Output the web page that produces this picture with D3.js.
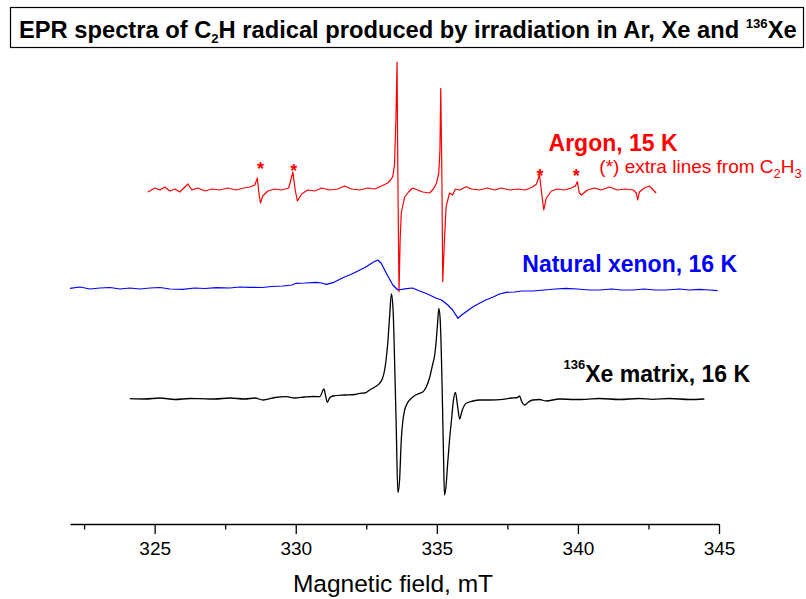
<!DOCTYPE html>
<html>
<head>
<meta charset="utf-8">
<script src="https://cdn.jsdelivr.net/npm/d3@7"></script>
<style>
  body { margin: 0; background: #fff; }
  svg { display: block; font-family: "Liberation Sans", Arial, sans-serif; }
  .axis path, .axis line { stroke: #000; stroke-width: 1.3px; }
  .axis text { font-size: 19px; fill: #000; }
  .trace { fill: none; stroke-linejoin: round; }
</style>
</head>
<body>
<div id="chart"></div>
<script>
// EPR spectra of C2H radical (field in mT, signal in arbitrary units)

// Argon, 15 K  [field, signal]
var argon = [
  [324.76,-0.2],[325.01,0.2],[325.19,0],[325.36,0.3],[325.54,-0.1],[325.72,0.1],[325.89,-0.2],
  [326.18,0.6],[326.32,0],[326.53,0.2],[326.78,-0.1],[327.03,0.1],[327.31,0],[327.59,0.2],
  [327.88,0],[328.16,0.2],[328.37,0.3],[328.55,0.5],[328.64,1.2],[328.69,-0.2],[328.75,-1.3],
  [328.83,-0.6],[329.01,-0.1],[329.26,0.1],[329.50,0],[329.75,0.2],[329.90,1.8],[329.98,0],
  [330.06,-1.1],[330.21,-0.4],[330.42,0],[330.67,-0.1],[330.92,0.2],[331.20,0],[331.49,0.1],
  [331.73,0.4],[331.98,0.1],[332.27,0],[332.55,0.2],[332.80,0.1],[333.04,0.4],[333.26,0.7],
  [333.36,1.0],[333.44,1.33],[333.50,2.5],[333.55,7.0],[333.59,12.8],[333.62,1.0],[333.66,-10.17],
  [333.70,-5.0],[333.74,-2.3],[333.86,-0.7],[334.00,-0.2],[334.14,0.2],[334.32,0],[334.50,-0.2],
  [334.74,-0.3],[334.88,0.1],[334.99,0.7],[335.07,1.7],[335.11,4.0],[335.14,10.17],[335.18,1.0],
  [335.21,-9.17],[335.27,-5.0],[335.33,-1.67],[335.45,-0.3],[335.56,-0.5],[335.66,0.1],[335.81,0],
  [336.04,0.33],[336.23,0.1],[336.51,0],[336.80,0.2],[337.04,0],[337.29,0.2],[337.58,0],
  [337.86,0.1],[338.14,0],[338.39,0.3],[338.53,0.6],[338.64,1.5],[338.71,-0.2],[338.79,-2.0],
  [338.88,-0.8],[339.06,-0.1],[339.27,0.1],[339.52,0],[339.77,0.2],[339.91,0.4],[339.98,0.83],
  [340.05,-0.3],[340.12,-0.5],[340.34,0],[340.58,0.2],[340.83,0],[341.12,0.3],[341.40,0],
  [341.68,0.1],[341.96,0],[342.07,-0.3],[342.12,-1.0],[342.18,-0.2],[342.35,0.2],[342.53,0.4],
  [342.64,0.1],[342.77,-0.3]
];

// Natural xenon, 16 K
var xenon = [
  [322.00,-0.03],[322.35,0.1],[322.71,-0.1],[323.06,0],[323.42,0.05],[323.77,-0.1],[324.12,0],
  [324.48,-0.1],[324.83,0],[325.19,0.05],[325.54,-0.1],[326.00,-0.13],[326.42,0],[326.78,-0.05],
  [327.19,0.03],[327.66,0],[328.02,0.1],[328.37,0.07],[328.80,0.05],[329.15,0.15],[329.55,0.2],
  [329.86,0.3],[330.02,0.47],[330.32,0.5],[330.73,0.57],[330.92,0.5],[331.09,0.37],[331.32,0.53],
  [331.67,1.03],[331.91,1.3],[332.15,1.63],[332.50,2.13],[332.74,2.57],[332.91,2.8],[333.03,2.47],
  [333.21,1.47],[333.44,0.3],[333.62,-0.2],[333.92,-0.07],[334.14,0],[334.39,-0.3],[334.67,-0.6],
  [334.98,-1.03],[335.17,-1.2],[335.39,-1.7],[335.56,-2.2],[335.75,-3.03],[335.88,-2.7],
  [336.04,-2.37],[336.27,-1.9],[336.51,-1.53],[336.73,-1.2],[336.98,-0.93],[337.22,-0.6],
  [337.46,-0.43],[337.75,-0.4],[338.00,-0.3],[338.40,-0.3],[338.81,-0.2],[339.20,-0.1],
  [339.58,-0.03],[339.98,-0.1],[340.41,-0.2],[340.76,-0.2],[341.19,-0.1],[341.54,-0.2],
  [341.94,-0.2],[342.35,-0.1],[342.74,-0.2],[343.12,-0.2],[343.59,-0.1],[343.95,-0.2],
  [344.30,-0.13],[344.65,-0.2],[344.95,-0.27]
];

// 136Xe matrix, 16 K
var xe136 = [
  [324.12,0.03],[324.65,0],[325.19,0.1],[325.72,-0.05],[326.25,0.05],[326.60,0.03],[327.13,0],
  [327.66,0.1],[328.19,0],[328.55,0.1],[328.84,-0.1],[329.26,0.15],[329.67,0.23],[329.96,0.1],
  [330.32,0.2],[330.67,0.25],[330.85,0.23],[331.00,1.0],[331.06,0.3],[331.12,-0.33],[331.20,0.1],
  [331.32,0.3],[331.73,0.4],[332.09,0.45],[332.27,0.57],[332.44,0.6],[332.62,0.9],[332.80,1.2],
  [332.97,1.57],[333.08,2.1],[333.15,2.9],[333.21,4.1],[333.27,5.9],[333.33,8.4],[333.39,10.5],
  [333.45,8.9],[333.50,4.23],[333.56,-2.6],[333.62,-9.37],[333.68,-8.1],[333.74,-4.1],
  [333.80,-2.1],[333.86,-1.1],[333.96,-0.4],[334.10,0.07],[334.25,0.4],[334.39,0.57],[334.50,0.7],
  [334.63,1.23],[334.74,2.1],[334.86,3.57],[334.92,4.3],[334.98,5.9],[335.03,7.7],[335.07,9.07],
  [335.12,7.9],[335.19,0.9],[335.24,-6.1],[335.27,-9.6],[335.33,-8.6],[335.38,-6.6],[335.45,-4.1],
  [335.52,-2.1],[335.59,-0.1],[335.66,0.67],[335.73,-0.6],[335.81,-2.0],[335.88,-1.3],
  [336.04,-0.43],[336.28,-0.2],[336.51,-0.1],[336.87,-0.1],[337.34,-0.03],[337.65,0.1],
  [337.86,0.15],[337.93,0.3],[338.00,-0.2],[338.11,-0.6],[338.25,-0.3],[338.40,-0.1],
  [338.64,-0.05],[338.87,-0.2],[339.35,0],[339.88,-0.05],[340.29,-0.03],[340.76,0.05],
  [341.47,-0.05],[342.18,0.05],[342.65,-0.03],[343.24,0.05],[343.95,-0.05],[344.48,0]
];

// vertical offsets of the stacked traces
var baselines = [33.4, 23.6, 12.5];
var colors = ['#ff0000', '#0000ff', '#000000'];

// C2H3 extra lines in the argon spectrum: [field, height of the star]
var stars = [[328.75, 2.5], [329.93, 2.35], [338.66, 1.85], [339.94, 1.8]];

// axis ticks
var majorTicks = [325, 330, 335, 340, 345];
var minorTicks = [322.5, 327.5, 332.5, 337.5, 342.5];

var width = 806, height = 599;

var svg = d3.select('#chart').append('svg')
    .attr('width', width)
    .attr('height', height);

var x = d3.scaleLinear().domain([322, 345]).range([70, 719]);
var y = d3.scaleLinear().domain([0, 47]).range([524, 54]);

// Title box
svg.append('rect')
    .attr('x', 10.5).attr('y', 7.5)
    .attr('width', 793).attr('height', 40)
    .attr('fill', 'none')
    .attr('stroke', '#000')
    .attr('stroke-width', 1.2);

var title = svg.append('text')
    .attr('font-weight', 'bold')
    .attr('font-size', 23.5);
title.append('tspan').text('EPR spectra of C');
title.append('tspan').attr('font-size', 13).attr('dy', 5).text('2');
title.append('tspan').attr('dy', -5).text('H radical produced by irradiation in Ar, Xe and ');
title.append('tspan').attr('font-size', 13).attr('dy', -10).text('136');
title.append('tspan').attr('dy', 10).text('Xe');
// squeeze the title into the box like a narrow font
var tw = title.node().getComputedTextLength();
title.attr('transform', 'translate(19,38) scale(' + (778 / tw) + ',1)');

// Axis
var gx = svg.append('g')
    .attr('class', 'axis')
    .attr('transform', 'translate(0,524)')
    .call(d3.axisBottom(x).tickValues(majorTicks).tickSize(10).tickSizeOuter(0).tickPadding(8)
        .tickFormat(d3.format('d')));
gx.selectAll('text').attr('dy', '0.71em');

svg.append('g')
    .attr('class', 'axis')
    .attr('transform', 'translate(0,524)')
    .call(d3.axisBottom(x).tickValues(minorTicks).tickSize(5.5).tickSizeOuter(0).tickFormat(''))
    .select('.domain').remove();

svg.append('text')
    .attr('x', 393).attr('y', 592)
    .attr('text-anchor', 'middle')
    .attr('font-size', 24.5)
    .text('Magnetic field, mT');

// Spectra
var line = d3.line()
    .x(function(d) { return x(d[0]); });

[argon, xenon, xe136].forEach(function(data, i) {
  svg.append('path')
      .datum(data)
      .attr('class', 'trace')
      .attr('stroke', colors[i])
      .attr('stroke-width', i == 2 ? 1.3 : 1.2)
      .attr('d', line
          .y(function(d) { return y(d[1] + baselines[i]); })
          .curve(i == 2 ? d3.curveMonotoneX : d3.curveLinear));
});

// Stars marking the C2H3 lines
svg.selectAll('.star')
    .data(stars)
    .enter()
      .append('text')
        .attr('class', 'star')
        .attr('x', function(d) { return x(d[0]); })
        .attr('y', function(d) { return y(d[1] + baselines[0]) + 10; })
        .attr('text-anchor', 'middle')
        .attr('font-size', 18)
        .attr('font-weight', 'bold')
        .attr('fill', colors[0])
        .text('*');

// Labels
svg.append('text')
    .attr('x', x(338.96)).attr('y', 151)
    .attr('font-weight', 'bold').attr('font-size', 23)
    .attr('fill', colors[0])
    .text('Argon, 15 K');

var note = svg.append('text')
    .attr('x', x(340.76)).attr('y', 173)
    .attr('font-size', 19)
    .attr('fill', colors[0]);
note.append('tspan').text('(*) extra lines from C');
note.append('tspan').attr('font-size', 13).attr('dy', 5).text('2');
note.append('tspan').attr('dy', -5).text('H');
note.append('tspan').attr('font-size', 13).attr('dy', 5).text('3');

svg.append('text')
    .attr('x', x(338.03)).attr('y', 272)
    .attr('font-weight', 'bold').attr('font-size', 23)
    .attr('fill', colors[1])
    .text('Natural xenon, 16 K');

var xeLabel = svg.append('text')
    .attr('x', x(339.49)).attr('y', 382)
    .attr('font-weight', 'bold').attr('font-size', 23)
    .attr('fill', colors[2]);
xeLabel.append('tspan').attr('font-size', 13).attr('dy', -13).text('136');
xeLabel.append('tspan').attr('dy', 13).text('Xe matrix, 16 K');
</script>
</body>
</html>
